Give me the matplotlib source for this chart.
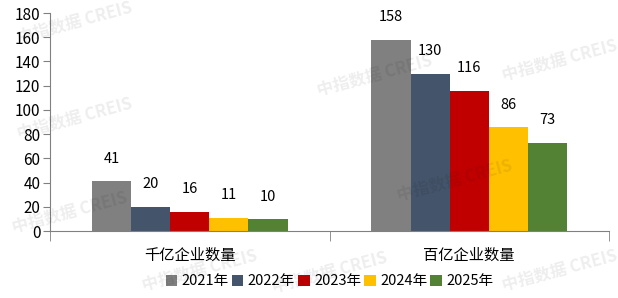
import numpy as np
import matplotlib.pyplot as plt
from matplotlib.ticker import FixedLocator

plt.rcParams['font.family'] = ['Noto Sans CJK SC', 'DejaVu Sans']

categories = ['千亿企业数量', '百亿企业数量']
years = ['2021年', '2022年', '2023年', '2024年', '2025年']
values = {
    '2021年': [41, 158],
    '2022年': [20, 130],
    '2023年': [16, 116],
    '2024年': [11, 86],
    '2025年': [10, 73],
}
colors = ['#808080', '#44546A', '#C00000', '#FFC000', '#548235']

fig = plt.figure(figsize=(6.18, 2.98), dpi=100)
ax = fig.add_axes([50 / 618, 1 - 231 / 298, 559 / 618, 218 / 298])

x = np.arange(len(categories))
w = 0.7 / len(years)
for i, (yr, c) in enumerate(zip(years, colors)):
    pos = x - 0.35 + w * (i + 0.5)
    bars = ax.bar(pos, values[yr], width=w, color=c, label=yr, zorder=2)
    for b, v in zip(bars, values[yr]):
        ax.annotate(str(v), (b.get_x() + b.get_width() / 2, v),
                    xytext=(0, 11), textcoords='offset points',
                    ha='center', va='bottom', fontsize=10.5)

ax.set_xlim(-0.5, 1.5)
ax.set_ylim(0, 180)
ax.set_yticks(range(0, 181, 20))
ax.tick_params(axis='y', direction='out', length=5, color='#808080', labelsize=11, pad=2)
ax.set_xticks(x)
ax.set_xticklabels(categories, fontsize=11)
ax.tick_params(axis='x', length=0, pad=11)
ax.xaxis.set_minor_locator(FixedLocator([-0.5, 0.5, 1.5]))
ax.tick_params(axis='x', which='minor', direction='out', length=7, color='#808080')
for s in ['top', 'right']:
    ax.spines[s].set_visible(False)
for s in ['left', 'bottom']:
    ax.spines[s].set_color('#808080')

ax.legend(loc='lower center', bbox_to_anchor=(0.5, -0.29), ncol=5, frameon=False,
          fontsize=10.5, handlelength=0.8, handleheight=0.8, handletextpad=0.3,
          columnspacing=0.2, borderaxespad=0)

# watermark
for (wx, wy) in [(75, 22), (75, 118), (70, 212), (375, 75), (455, 180), (560, 60),
                 (330, 272), (560, 270), (200, 270)]:
    fig.text(wx / 618, 1 - wy / 298, '中指数据 CREIS', fontsize=12, color='#000000',
             alpha=0.07, rotation=15, ha='center', va='center', fontweight='bold')

fig.savefig('out.png', dpi=100)
